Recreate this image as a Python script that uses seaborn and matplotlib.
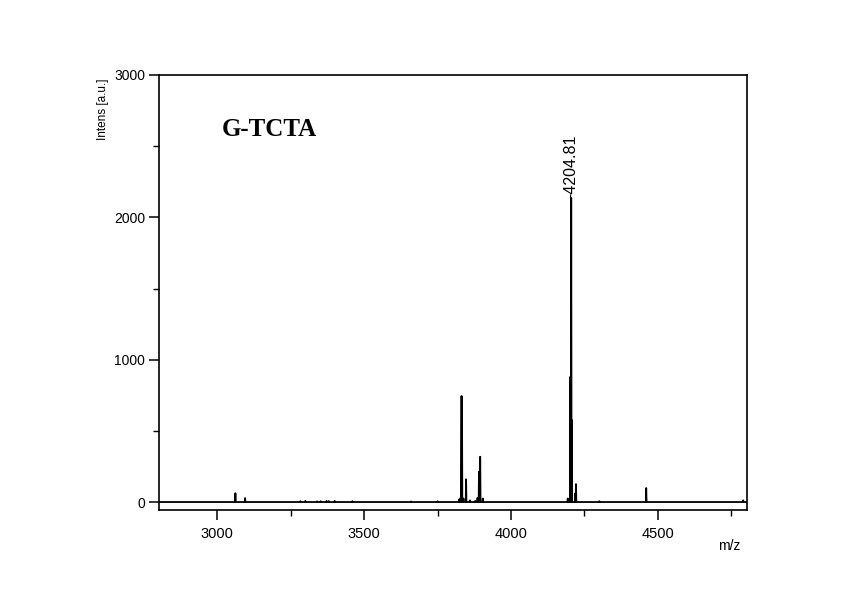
import numpy as np
import pandas as pd
import matplotlib
matplotlib.use("Agg")
import matplotlib.pyplot as plt
from matplotlib.ticker import MultipleLocator
import seaborn as sns

# Peak list of the mass spectrum (m/z, intensity in a.u.)
peak_mz = [3062, 3095, 3283, 3300, 3340, 3352, 3372, 3380, 3400, 3460,
           3660, 3750, 3824, 3829, 3831.5, 3833, 3838, 3847, 3860, 3878,
           3886, 3891, 3895, 3904, 4193, 4202, 4204.81, 4206.5, 4218, 4221,
           4300, 4460, 4790]
peak_int = [62, 28, 6, 8, 5, 6, 8, 7, 8, 6,
            4, 5, 20, 35, 745, 735, 25, 160, 12, 8,
            30, 213, 318, 25, 25, 880, 2136, 576, 60, 126,
            6, 98, 12]

label_peak = 4204.81
label_int = 2136

x_range = [2802, 4803]
y_range = [-56, 3000]

# Build a stick-like trace: each peak is a narrow spike rising from the baseline
half_width = 1.2
xs, ys = [x_range[0]], [0.0]
for mz, h in zip(peak_mz, peak_int):
    xs += [mz - half_width, mz, mz + half_width]
    ys += [0.0, h, 0.0]
xs.append(x_range[1])
ys.append(0.0)
spectrum = pd.DataFrame({"mz": xs, "intens": ys})

sns.set_theme(style="ticks")
plt.rcParams["font.family"] = ["Liberation Sans", "DejaVu Sans"]
plt.rcParams["text.color"] = "black"
plt.rcParams["xtick.color"] = "black"
plt.rcParams["ytick.color"] = "black"

fig = plt.figure(figsize=(8.52, 6.01), dpi=100)
ax = fig.add_axes([159 / 852, 1 - 510 / 601, (747 - 159) / 852, (510 - 75) / 601])

sns.lineplot(data=spectrum, x="mz", y="intens", estimator=None, sort=False,
             color="black", linewidth=1.3, ax=ax)

ax.set_xlim(*x_range)
ax.set_ylim(*y_range)
ax.set_xlabel("")
ax.set_ylabel("")

ax.xaxis.set_major_locator(MultipleLocator(500))
ax.xaxis.set_minor_locator(MultipleLocator(250))
ax.yaxis.set_major_locator(MultipleLocator(1000))
ax.yaxis.set_minor_locator(MultipleLocator(500))

for side in ["top", "right", "bottom", "left"]:
    ax.spines[side].set_visible(True)
    ax.spines[side].set_linewidth(1.2)
    ax.spines[side].set_color("black")

ax.tick_params(axis="both", which="major", direction="out", length=7, width=1.1,
               color="black", labelcolor="black")
ax.tick_params(axis="both", which="minor", direction="out", length=4, width=1.0,
               color="black")
ax.tick_params(axis="x", which="major", labelsize=10.5, pad=5)
ax.tick_params(axis="y", which="major", labelsize=10, pad=3)
ax.tick_params(top=False, right=False, which="both")

# Peak label
ax.text(label_peak, label_int, f"-{label_peak:.2f}", rotation=90, ha="center",
        va="bottom", fontsize=11.5, color="black")

# Sample name
fig.text(269 / 852, 1 - 129 / 601, "G-TCTA", fontsize=18, fontweight="bold",
         family=["Liberation Serif", "DejaVu Serif"], ha="center", va="center",
         color="black")

# Axis titles in the instrument style
fig.text(103 / 852, 1 - 78 / 601, "Intens [a.u.]", rotation=90, ha="center",
         va="top", fontsize=8.5, color="black")
fig.text(729 / 852, 1 - 546 / 601, "m/z", ha="center", va="center", fontsize=10,
         color="black")

fig.savefig("out.png", dpi=100, facecolor="white")
